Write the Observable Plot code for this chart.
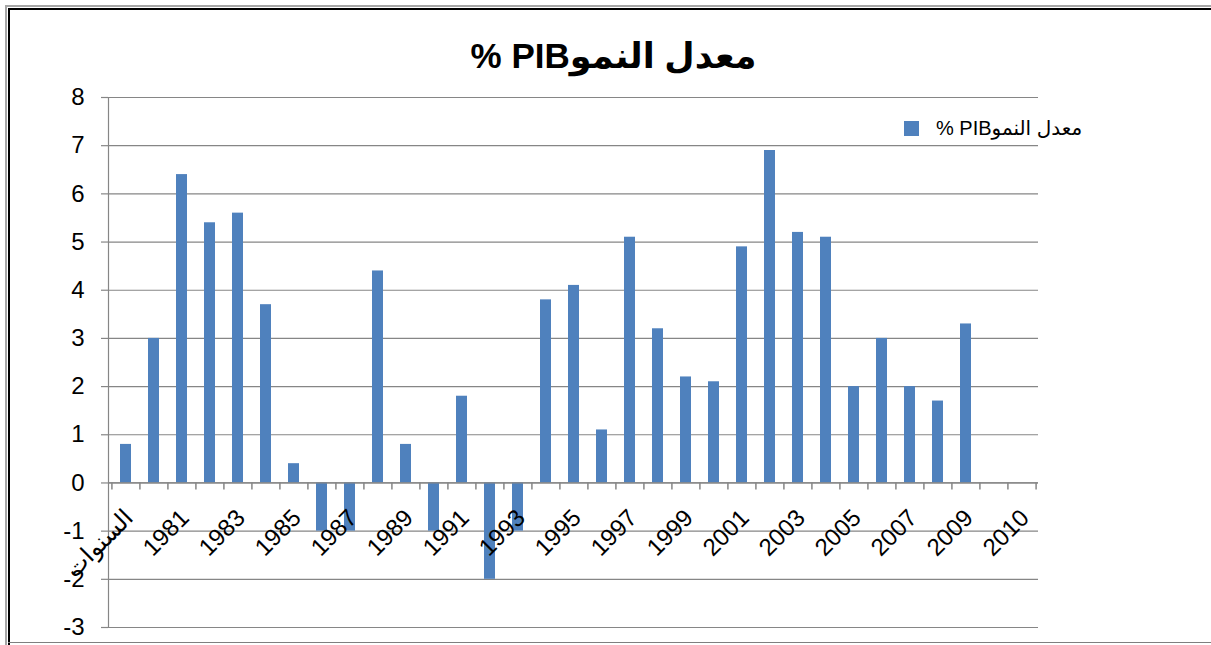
<!DOCTYPE html>
<html>
<head>
<meta charset="utf-8">
<script src="https://cdn.jsdelivr.net/npm/d3@7"></script>
<script src="https://cdn.jsdelivr.net/npm/@observablehq/plot@0.6"></script>
<style>
  html, body { margin: 0; padding: 0; background: #fff; }
  #wrap { position: relative; width: 1211px; height: 645px; overflow: hidden; font-family: "Liberation Sans", "DejaVu Sans", sans-serif; }
  .ln { position: absolute; }
  #title { position: absolute; left: 8px; top: 31px; width: 1211px; text-align: center; font-size: 35px; font-weight: bold; line-height: 50px; color: #000; }
  #chart { position: absolute; left: 0; top: 70px; }
  #legend { position: absolute; left: 904px; top: 116px; height: 24px; display: flex; align-items: center; font-size: 20px; color: #000; }
  #legend .sw { width: 15px; height: 15px; background: #4f81bd; margin-right: 17px; }
</style>
</head>
<body>
<div id="wrap">
  <div class="ln" style="left:5px;top:5px;width:1206px;height:2px;background:#a6a6a6"></div>
  <div class="ln" style="left:5px;top:5px;width:2px;height:640px;background:#a6a6a6"></div>
  <div class="ln" style="left:8px;top:8px;width:1203px;height:2px;background:#000"></div>
  <div class="ln" style="left:8px;top:8px;width:2px;height:637px;background:#000"></div>
  <div class="ln" style="left:8px;top:642px;width:1203px;height:1px;background:#7f7f7f"></div>
  <div id="title" dir="rtl">معدل النموPIB %</div>
  <div id="chart"></div>
  <div id="legend"><div class="sw"></div><span dir="rtl">معدل النموPIB %</span></div>
</div>
<script>
// Categories (x axis), as in the source sheet
const categories = ["السنوات","1980","1981","1982","1983","1984","1985","1986","1987","1988","1989",
  "1990","1991","1992","1993","1994","1995","1996","1997","1998","1999",
  "2000","2001","2002","2003","2004","2005","2006","2007","2008","2009"," ","2010"];
// Series values: معدل النمو PIB %
const values = [0.8, 3.0, 6.4, 5.4, 5.6, 3.7, 0.4, -1, -1, 4.4, 0.8,
  -1, 1.8, -2, -1, 3.8, 4.1, 1.1, 5.1, 3.2, 2.2,
  2.1, 4.9, 6.9, 5.2, 5.1, 2.0, 3.0, 2.0, 1.7, 3.3];
// Y tick labels
const yTicks = [-3, -2, -1, 0, 1, 2, 3, 4, 5, 6, 7, 8];
// X tick labels shown (every other category)
const xLabels = categories.filter((d, i) => i % 2 === 0);

const bars = values.map((v, i) => ({cat: categories[i], v}));

const W = 1211, H = 575, mL = 108, mR = 173, mT = 27, mB = 18;
const step = (W - mL - mR) / categories.length;
const grid = "#868686";
const font = "Liberation Sans, DejaVu Sans, sans-serif";

const chart = Plot.plot({
  width: W, height: H,
  marginLeft: mL, marginRight: mR, marginTop: mT, marginBottom: mB,
  style: {fontFamily: font, background: "transparent", overflow: "visible"},
  x: {type: "band", domain: categories, paddingInner: 0.61, paddingOuter: 0.305, axis: null},
  y: {domain: [-3, 8], axis: null},
  marks: [
    Plot.gridY(yTicks, {stroke: grid, strokeOpacity: 1, strokeWidth: 1.2}),
    Plot.axisY(yTicks, {tickSize: 7, tickPadding: 17, fontSize: 24, stroke: grid, strokeWidth: 1.2, fill: "#000", tickFormat: d => String(d), label: null}),
    Plot.frame({anchor: "left", stroke: grid, strokeWidth: 1.2}),
    Plot.barY(bars, {x: "cat", y: "v", fill: "#4f81bd"}),
    Plot.ruleY([0], {stroke: grid, strokeWidth: 1.2}),
    Plot.ruleX(categories, {x: d => d, y1: 0, y2: 0, insetBottom: -7, dx: -step / 2, stroke: grid, strokeWidth: 1.5}),
    Plot.ruleX(categories.slice(-1), {x: d => d, y1: 0, y2: 0, insetBottom: -7, dx: step / 2, stroke: grid, strokeWidth: 1.5}),
    Plot.text(xLabels, {x: d => d, y: 0, text: d => d, rotate: -45, textAnchor: "end", dx: 3, dy: 31, fontSize: 24, fill: "#000"})
  ]
});
document.getElementById("chart").appendChild(chart);
</script>
</body>
</html>
